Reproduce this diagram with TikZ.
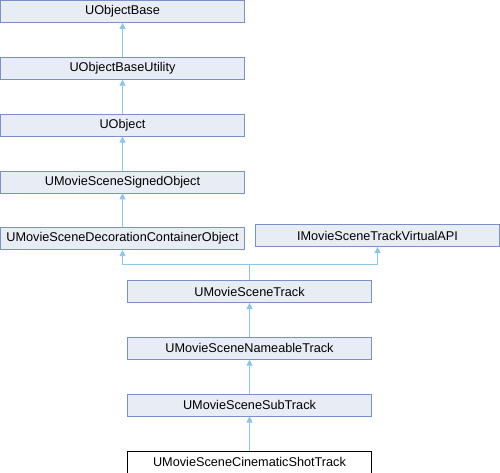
\documentclass[tikz,border=0pt]{standalone}
\usepackage{fontspec}
\setmainfont{Liberation Sans}
\usetikzlibrary{positioning,arrows.meta}

\definecolor{boxfill}{RGB}{232,236,245}
\definecolor{boxline}{RGB}{122,145,200}
\definecolor{edgeblue}{RGB}{140,198,230}

\begin{document}
\begin{tikzpicture}[x=1pt, y=1pt, >={Triangle[width=6pt,length=6pt]},
		node distance=34pt,
		cls/.style={draw=boxline, fill=boxfill, line width=0.8pt, minimum width=244pt, minimum height=22pt, inner sep=0pt, font=\fontsize{12.7}{14}\selectfont},
		cur/.style={cls, draw=black, fill=white},
		edge/.style={->, edgeblue, line width=0.8pt}]
		% 1. Fix the page size
		\useasboundingbox (0,0) rectangle (500,-472);

		% 2. Left column of classes
		\node[cls] (base) at (122.5,-11.5) {UObjectBase};
		\node[cls, below=of base] (util) {UObjectBaseUtility};
		\node[cls, below=of util] (uobj) {UObject};
		\node[cls, below=of uobj] (signed) {UMovieSceneSignedObject};
		\node[cls, below=of signed] (decor) {UMovieSceneDecorationContainerObject};

		% 3. Interface on the right
		\node[cls] (api) at (377.5,-235.5) {IMovieSceneTrackVirtualAPI};

		% 4. Track chain, down the middle
		\node[cls] (track) at (249.5,-291.5) {UMovieSceneTrack};
		\node[cls, below=of track] (nameable) {UMovieSceneNameableTrack};
		\node[cls, below=of nameable] (sub) {UMovieSceneSubTrack};
		\node[cur, below=of sub] (shot) {UMovieSceneCinematicShotTrack};

		% 5. Inheritance arrows
		\draw[edge] (util) -- (base);
		\draw[edge] (uobj) -- (util);
		\draw[edge] (signed) -- (uobj);
		\draw[edge] (decor) -- (signed);
		% two parents join above UMovieSceneTrack
		\coordinate (join) at ([yshift=16pt]track.north);
		\draw[edgeblue, line width=0.8pt] (track) -- (join);
		\draw[edge] (join) -| (decor);
		\draw[edge] (join) -| (api);
		\draw[edge] (nameable) -- (track);
		\draw[edge] (sub) -- (nameable);
		\draw[edge] (shot) -- (sub);
\end{tikzpicture}
\end{document}
